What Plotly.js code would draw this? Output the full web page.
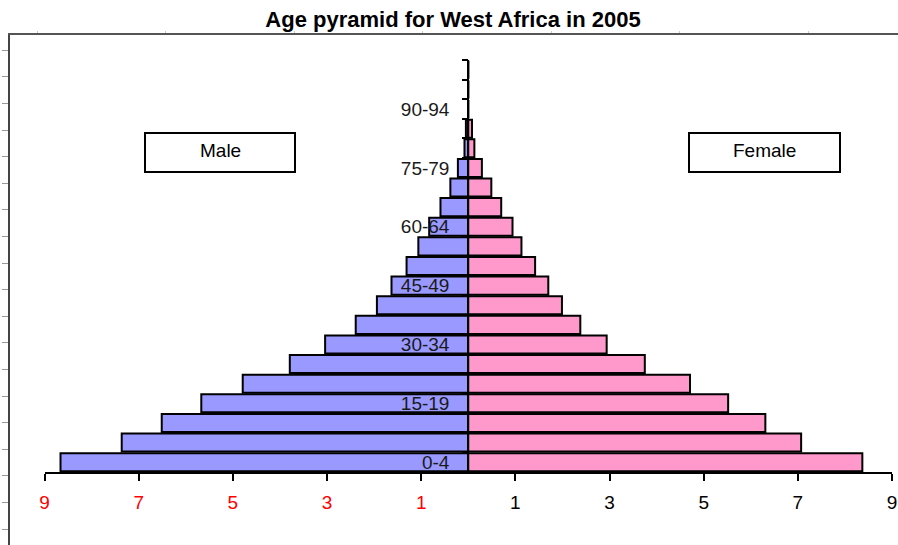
<!DOCTYPE html>
<html>
<head>
<meta charset="utf-8">
<script src="https://cdn.plot.ly/plotly-3.0.1.min.js"></script>
<style>html,body{margin:0;padding:0;background:#fff;}#chart{width:898px;height:545px;}</style>
</head>
<body>
<div id="chart"></div>
<script>
// ---- data ----
const ageGroups = ['0-4','5-9','10-14','15-19','20-24','25-29','30-34','35-39','40-44','45-49',
  '50-54','55-59','60-64','65-69','70-74','75-79','80-84','85-89','90-94','95-99','100+'];
const malePct = [8.66, 7.36, 6.51, 5.67, 4.79, 3.79, 3.04, 2.39, 1.94, 1.63,
  1.31, 1.06, 0.83, 0.59, 0.38, 0.22, 0.08, 0.05, 0, 0, 0];
const femalePct = [8.37, 7.07, 6.31, 5.52, 4.71, 3.75, 2.94, 2.38, 1.99, 1.70,
  1.42, 1.13, 0.94, 0.70, 0.49, 0.29, 0.13, 0.08, 0, 0, 0];
const labeledGroups = ['0-4','15-19','30-34','45-49','60-64','75-79','90-94'];
const xTickVals = [-9,-7,-5,-3,-1,1,3,5,7,9];
const xTickText = ['9','7','5','3','1','1','3','5','7','9'];
const titleText = 'Age pyramid for West Africa in 2005';
const maleLabel = 'Male';
const femaleLabel = 'Female';

// ---- chart ----
const W = 898, H = 545;
const mL = 10, mT = 35;
const plotW = W - mL, plotH = H - mT;
const px = v => (v - mL) / plotW;          // page x -> paper fraction
const py = v => (H - v) / plotH;           // page y -> paper fraction

const traces = [
  {
    type: 'bar', orientation: 'h', name: maleLabel,
    y: ageGroups, x: malePct.map(v => -v),
    marker: {color: '#9999ff', line: {color: '#000', width: 2}},
    xaxis: 'x', yaxis: 'y', hoverinfo: 'skip'
  },
  {
    type: 'bar', orientation: 'h', name: femaleLabel,
    y: ageGroups, x: femalePct,
    marker: {color: '#ff99cc', line: {color: '#000', width: 2}},
    xaxis: 'x', yaxis: 'y', hoverinfo: 'skip'
  },
  {type: 'scatter', x: [], y: [], xaxis: 'x', yaxis: 'y2', showlegend: false, hoverinfo: 'skip'},
  {type: 'scatter', x: [], y: [], xaxis: 'x2', yaxis: 'y3', showlegend: false, hoverinfo: 'skip'}
];

const boundaryTicks = ageGroups.map((_, i) => i - 0.5).concat([ageGroups.length - 0.5]);
const yPos = px(468.25);
const labelFont = {family: '"Liberation Sans", Arial, sans-serif', size: 19, color: '#000'};

function boxShape(x0, x1) {
  return {
    type: 'rect', xref: 'paper', yref: 'paper',
    x0: px(x0), x1: px(x1), y0: py(172), y1: py(133),
    line: {color: '#000', width: 2}, fillcolor: '#fff', layer: 'above'
  };
}

const layout = {
  width: W, height: H,
  margin: {l: mL, r: 0, t: mT, b: 0, pad: 0},
  paper_bgcolor: '#ffffff',
  plot_bgcolor: 'rgba(0,0,0,0)',
  showlegend: false,
  hovermode: false,
  barmode: 'overlay',
  bargap: 0.08,
  title: {
    text: '<b>' + titleText + '</b>',
    font: {family: '"Liberation Sans Narrow", "Arial Narrow", "Liberation Sans", Arial, sans-serif', size: 22, color: '#000'},
    x: 453 / W, xanchor: 'center', xref: 'container',
    y: 1 - 19 / H, yanchor: 'middle', yref: 'container'
  },
  xaxis: {
    domain: [px(44.5), px(892)],
    range: [-9, 9],
    anchor: 'y',
    tickmode: 'array',
    tickvals: xTickVals,
    ticktext: xTickText.map((t, i) => xTickVals[i] < 0 ? '<span style="color:#ff0000">' + t + '</span>' : t),
    ticks: 'outside', ticklen: 7, tickwidth: 2, tickcolor: '#000',
    ticklabelstandoff: 5,
    showline: true, linecolor: '#000', linewidth: 2,
    showgrid: false, zeroline: false,
    tickfont: labelFont,
    automargin: false, fixedrange: true
  },
  yaxis: {
    type: 'category',
    categoryorder: 'array', categoryarray: ageGroups,
    domain: [py(472), py(60)],
    range: [-0.5, ageGroups.length - 0.5],
    anchor: 'free', position: yPos,
    tickmode: 'array', tickvals: labeledGroups, ticktext: labeledGroups,
    ticks: '', ticklabelstandoff: 14,
    showline: true, linecolor: '#000', linewidth: 2,
    showgrid: false, zeroline: false,
    tickfont: {family: '"Liberation Sans", Arial, sans-serif', size: 19, color: '#1a1a1a'},
    automargin: false, fixedrange: true
  },
  yaxis2: {
    overlaying: 'y',
    range: [-0.5, ageGroups.length - 0.5],
    anchor: 'free', position: yPos, side: 'left',
    tickmode: 'array', tickvals: boundaryTicks,
    ticks: 'outside', ticklen: 6, tickwidth: 2, tickcolor: '#000',
    showticklabels: false, showline: false, showgrid: false, zeroline: false,
    automargin: false, fixedrange: true
  },
  xaxis2: {
    domain: [0, 1], range: [mL, W], anchor: 'y3', side: 'top',
    tickmode: 'linear', tick0: 37, dtick: 128.5,
    ticks: 'outside', ticklen: 2, tickwidth: 1, tickcolor: '#c8c8c8',
    showticklabels: false, showline: true, linecolor: '#555', linewidth: 2,
    showgrid: false, zeroline: false, automargin: false, fixedrange: true
  },
  yaxis3: {
    domain: [0, 1], range: [0, plotH], anchor: 'x2', side: 'left',
    tickmode: 'linear', tick0: 16, dtick: 26.6,
    ticks: 'outside', ticklen: 6, tickwidth: 1, tickcolor: '#999',
    showticklabels: false, showline: true, linecolor: '#444', linewidth: 2,
    showgrid: false, zeroline: false, automargin: false, fixedrange: true
  },
  shapes: [boxShape(145, 295), boxShape(689, 840)],
  annotations: [
    {
      xref: 'paper', yref: 'paper', x: px(220), y: py(150),
      xanchor: 'center', yanchor: 'middle', showarrow: false,
      text: maleLabel, font: labelFont
    },
    {
      xref: 'paper', yref: 'paper', x: px(764.5), y: py(150),
      xanchor: 'center', yanchor: 'middle', showarrow: false,
      text: femaleLabel, font: labelFont
    }
  ]
};

Plotly.newPlot('chart', traces, layout, {displayModeBar: false, staticPlot: true});
</script>
</body>
</html>
